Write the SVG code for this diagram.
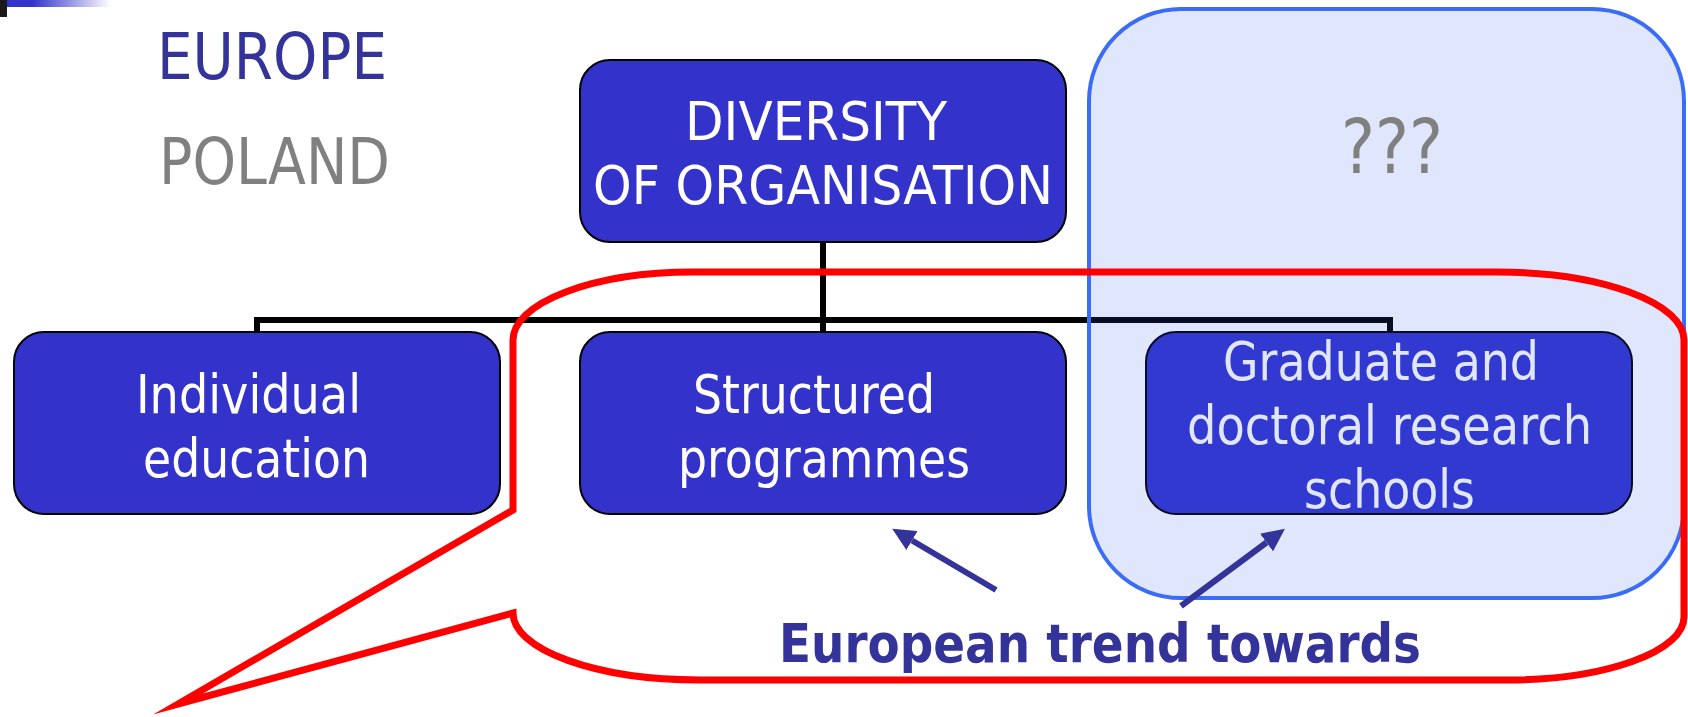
<svg xmlns="http://www.w3.org/2000/svg" width="1688" height="717" viewBox="0 0 1688 717">
  <defs>
    <linearGradient id="topbar" x1="0" y1="0" x2="1" y2="0">
      <stop offset="0" stop-color="#3333cc"/>
      <stop offset="0.24" stop-color="#3333cc"/>
      <stop offset="1" stop-color="#ffffff"/>
    </linearGradient>
    <marker id="head" viewBox="0 -11 23 22" refX="0" refY="0" markerWidth="23" markerHeight="22" markerUnits="userSpaceOnUse" orient="auto">
      <path d="M0,-11 L23,0 L0,11 Z" fill="#333399"/>
    </marker>
    <style>
      .box { fill: #3333cc; stroke: #000000; stroke-width: 2; }
      .lbl { font-family: "DejaVu Sans", "Liberation Sans", sans-serif; font-size: 54px; fill: #ffffff; }
      .conn { stroke: #000000; stroke-width: 6; fill: none; }
      .arrow { stroke: #333399; stroke-width: 6; fill: none; marker-end: url(#head); }
      .big { font-family: "DejaVu Sans", "Liberation Sans", sans-serif; font-size: 64px; }
    </style>
  </defs>

  <rect x="0" y="0" width="1688" height="717" fill="#ffffff"/>

  <!-- top-left decoration -->
  <rect x="7" y="0" width="104" height="7" fill="url(#topbar)"/>
  <rect x="0" y="0" width="7" height="17" fill="#1a1a1a"/>

  <!-- headings -->
  <text class="big" x="157" y="79" fill="#333399" textLength="230" lengthAdjust="spacingAndGlyphs">EUROPE</text>
  <text class="big" x="159" y="184" fill="#808080" textLength="231" lengthAdjust="spacingAndGlyphs">POLAND</text>

  <!-- connectors -->
  <g id="connectors">
    <path class="conn" d="M823,242 V333"/>
    <path class="conn" d="M257,333 V320 H1390 V333"/>
  </g>

  <g id="node-diversity">
    <rect class="box" x="580" y="60" width="486" height="182" rx="30"/>
    <text class="lbl" x="685" y="140" textLength="262" lengthAdjust="spacingAndGlyphs">DIVERSITY</text>
    <text class="lbl" x="593" y="204" textLength="460" lengthAdjust="spacingAndGlyphs">OF ORGANISATION</text>
  </g>

  <g id="node-individual">
    <rect class="box" x="14" y="332" width="486" height="182" rx="30"/>
    <text class="lbl" x="136" y="413" textLength="225" lengthAdjust="spacingAndGlyphs">Individual</text>
    <text class="lbl" x="143" y="477" textLength="227" lengthAdjust="spacingAndGlyphs">education</text>
  </g>

  <g id="node-structured">
    <rect class="box" x="580" y="332" width="486" height="182" rx="30"/>
    <text class="lbl" x="693" y="413" textLength="242" lengthAdjust="spacingAndGlyphs">Structured</text>
    <text class="lbl" x="678" y="477" textLength="292" lengthAdjust="spacingAndGlyphs">programmes</text>
  </g>

  <g id="node-graduate">
    <rect class="box" x="1146" y="332" width="486" height="182" rx="30"/>
    <text class="lbl" x="1223" y="380" textLength="316" lengthAdjust="spacingAndGlyphs">Graduate and</text>
    <text class="lbl" x="1187" y="444" textLength="405" lengthAdjust="spacingAndGlyphs">doctoral research</text>
    <text class="lbl" x="1304" y="508" textLength="171" lengthAdjust="spacingAndGlyphs">schools</text>
  </g>

  <!-- Poland area -->
  <g id="node-poland-area">
    <rect x="1089" y="9" width="595" height="589" rx="92" fill="#2f5ff0" fill-opacity="0.15" stroke="#3a6cf8" stroke-width="4"/>
    <text x="1341" y="173" font-family="DejaVu Sans, Liberation Sans, sans-serif" font-size="74" fill="#808080" textLength="102" lengthAdjust="spacingAndGlyphs">???</text>
  </g>

  <!-- European trend callout -->
  <g id="node-callout">
    <path d="M513,510 L178,704 L513,613 A187,67 0 0 0 700,680 L1507,680 A177,63 0 0 0 1684,617 L1684,340 A187,68 0 0 0 1497,272 L693,272 A180,68 0 0 0 513,340 Z" fill="none" stroke="#ff0000" stroke-width="7" stroke-linejoin="miter" stroke-miterlimit="20"/>
    <text x="779" y="662" font-family="DejaVu Sans, Liberation Sans, sans-serif" font-weight="bold" font-size="54" fill="#333399" textLength="642" lengthAdjust="spacingAndGlyphs">European trend towards</text>
  </g>

  <g id="arrows">
    <line class="arrow" x1="996" y1="590" x2="912" y2="540.5"/>
    <line class="arrow" x1="1181" y1="606" x2="1266.5" y2="542.5"/>
  </g>
</svg>
